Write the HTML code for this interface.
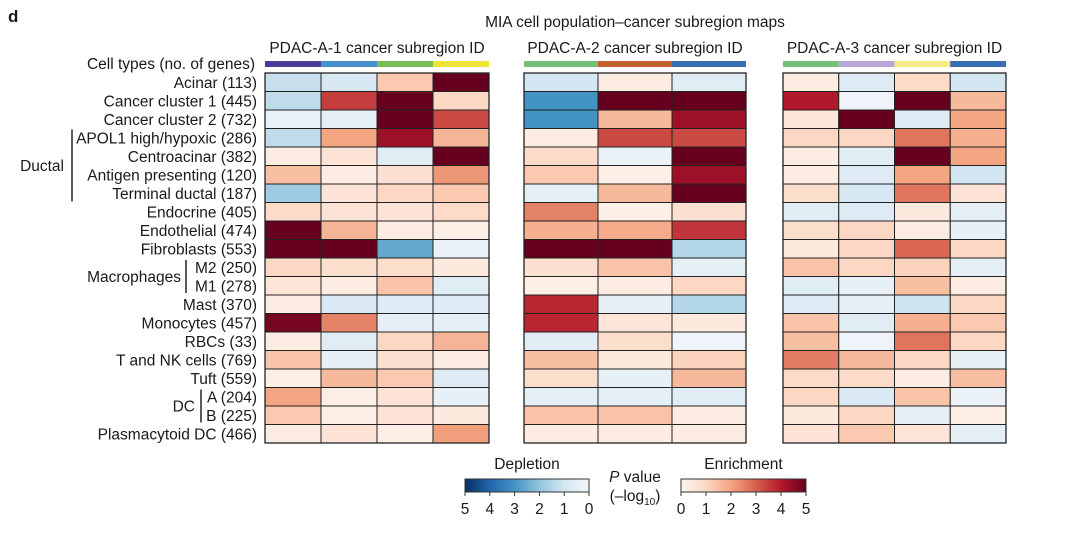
<!DOCTYPE html>
<html><head><meta charset="utf-8"><style>
body{margin:0;background:#fff;}
svg text{font-family:"Liberation Sans",Arial,sans-serif;fill:#1a1a1a;}
</style></head><body>
<svg id="chart" width="1080" height="538" viewBox="0 0 1080 538" xmlns="http://www.w3.org/2000/svg">
<text x="8" y="22" font-size="17" font-weight="bold">d</text>
<text x="635" y="27" font-size="15.5" text-anchor="middle">MIA cell population–cancer subregion maps</text>
<g id="labels"></g>
<g id="maps"></g>
<g id="legend"></g>
</svg>
<script>
const rowLabels=["Acinar (113)","Cancer cluster 1 (445)","Cancer cluster 2 (732)","APOL1 high/hypoxic (286)","Centroacinar (382)","Antigen presenting (120)","Terminal ductal (187)","Endocrine (405)","Endothelial (474)","Fibroblasts (553)","M2 (250)","M1 (278)","Mast (370)","Monocytes (457)","RBCs (33)","T and NK cells (769)","Tuft (559)","A (204)","B (225)","Plasmacytoid DC (466)"];
const panelTitles=["PDAC-A-1 cancer subregion ID","PDAC-A-2 cancer subregion ID","PDAC-A-3 cancer subregion ID"];
const panel1Colors=["#4b3a96","#4a90d0","#77c05a","#ece536"];
const panel2Colors=["#78c07a","#c0622c","#3b6db5"];
const panel3Colors=["#78c07a","#b7a6d6","#f5ec8c","#3b6db5"];
// signed -log10 P: negative = depletion, positive = enrichment
const panel1Values=[
[-1.2,-0.9,1.3,5],[-1.3,3.5,5,1],[-0.3,-0.5,5,3.3],[-1.3,2,4.3,1.7],[0.3,0.6,-0.6,5],
[1.5,0.3,0.7,2.2],[-1.8,0.6,1,1.3],[0.9,0.6,0.6,0.9],[5,1.7,0.3,0.2],[5,5,-2.6,-0.3],
[1,0.8,0.8,0.4],[0.5,0.3,1.4,-0.6],[0.3,-0.8,-0.7,-0.7],[4.8,2.5,-0.5,-0.5],[0.3,-0.6,1,1.7],
[1.4,-0.4,0.7,0.3],[0.2,1.6,1.3,-0.7],[2,0.2,0.6,-0.4],[1.3,0.2,0.6,0.4],[0.3,0.6,0.2,2.1]];
const panel2Values=[
[-1,0.3,-0.6],[-3,5,5],[-3,1.6,4.3],[0.3,3.3,3.3],[0.9,-0.3,5],
[1.3,0.2,4.3],[-0.5,1.6,5],[2.5,0.2,0.7],[1.8,1.9,3.6],[5,5,-1.5],
[0.7,1.4,-0.5],[0.2,0.3,1],[3.8,-0.4,-1.5],[3.8,0.5,0.4],[-0.6,0.8,-0.2],
[1.5,0.4,1.1],[0.8,-0.4,1.6],[-0.5,-0.5,-0.6],[1.4,1.4,0.3],[0.3,0.3,0.3]];
const panel3Values=[
[0.3,-0.7,0.9,-1],[4,-0.2,5,1.6],[0.5,5,-0.7,2],[1,1,2.7,1.8],[0.3,-0.6,5,2],
[0.3,-0.7,2,-1],[0.8,-0.9,2.7,0.6],[-0.6,-0.7,0.4,-0.5],[0.8,1,0.3,-0.4],[0.4,1,2.9,1],
[1.4,1,1.1,-0.5],[-0.6,-0.4,1.5,0.3],[-0.7,-0.4,-1.1,1],[1.4,-0.6,1.8,1.3],[1.5,-0.2,2.7,1],
[2.6,1.6,1,-0.4],[0.9,0.9,0.3,1.5],[1,-0.8,1.4,-0.3],[0.4,1,-0.5,0.2],[0.6,1.3,0.5,-0.5]];
const legendTicksDep=[5,4,3,2,1,0];
const legendTicksEnr=[0,1,2,3,4,5];

const NS="http://www.w3.org/2000/svg";
function mk(tag,attrs,parent){const e=document.createElementNS(NS,tag);for(const k in attrs)e.setAttribute(k,attrs[k]);parent.appendChild(e);return e;}
const redStops=[[253,244,238],[252,216,196],[244,165,130],[214,96,77],[178,24,43],[103,0,31]];
const blueStops=[[244,247,251],[212,230,241],[146,197,222],[67,147,195],[33,102,172],[5,48,97]];
function color(v){const s=v>=0?redStops:blueStops;let a=Math.min(5,Math.abs(v));const i=Math.min(4,Math.floor(a));const t=a-i;const c=s[i].map((x,k)=>Math.round(x+(s[i+1][k]-x)*t));return `rgb(${c.join(',')})`;}
const top0=73,bottom0=443,nRows=rowLabels.length;
const rowH=(bottom0-top0)/nRows;
function yScale(r){return top0+r*rowH;}
const FS=15.5;

// labels
const L=document.getElementById('labels');
let t=mk('text',{x:255,y:69,'font-size':FS,'text-anchor':'end'},L);t.textContent="Cell types (no. of genes)";


rowLabels.forEach((lab,r)=>{const e=mk('text',{x:257,y:yScale(r)+rowH/2+5.5,'font-size':FS,'text-anchor':'end'},L);e.textContent=lab;

});
function group(txt,x,lx,y1,y2,name){const ln=mk('line',{x1:lx,x2:lx,y1:y1,y2:y2,stroke:'#222','stroke-width':1.5},L);


const e=mk('text',{x:x,y:(y1+y2)/2+5.5,'font-size':FS,'text-anchor':'end'},L);e.textContent=txt;

}
group("Ductal",64,72,yScale(3)+1,yScale(7)-1,'ductal');
group("Macrophages",181,186,yScale(10)+2,yScale(12)-2,'macrophages');
group("DC",195,201,yScale(17)+2,yScale(19)-2,'dc');

// maps
const M=document.getElementById('maps');
const panels=[{x0:265,x1:489,vals:panel1Values,cols:panel1Colors},{x0:524,x1:746,vals:panel2Values,cols:panel2Colors},{x0:783,x1:1006,vals:panel3Values,cols:panel3Colors}];
panels.forEach((p,pi)=>{
  const g=mk('g',{},M);
  
  
  const nc=p.cols.length,cw=(p.x1-p.x0)/nc;
  const tt=mk('text',{x:(p.x0+p.x1)/2,y:53,'font-size':FS,'text-anchor':'middle'},g);tt.textContent=panelTitles[pi];
  
  
  p.cols.forEach((c,ci)=>{const b=mk('rect',{x:p.x0+ci*cw,y:61,width:cw,height:6,fill:c},g);
    
    });
  p.vals.forEach((row,r)=>row.forEach((v,ci)=>{
    const c=mk('rect',{x:p.x0+ci*cw,y:yScale(r),width:cw,height:rowH,fill:color(v),stroke:'#222','stroke-width':1},g);
    
    
  }));
  mk('rect',{x:p.x0,y:top0,width:p.x1-p.x0,height:bottom0-top0,fill:'none',stroke:'#222','stroke-width':1.3},g);
});

// legend
const G=document.getElementById('legend');
const defs=mk('defs',{},G);
function grad(id,stops){const lg=mk('linearGradient',{id:id,x1:0,x2:1,y1:0,y2:0},defs);stops.forEach((s,i)=>{mk('stop',{offset:i/5,'stop-color':`rgb(${s.join(',')})`},lg);});}
grad('gb',blueStops.slice().reverse());grad('gr',redStops);
function bar(x0,x1,fill,ticks,title,name){
  const r=mk('rect',{x:x0,y:479,width:x1-x0,height:13,fill:fill,stroke:'#333','stroke-width':1},G);
  
  
  const tt=mk('text',{x:(x0+x1)/2,y:469,'font-size':FS,'text-anchor':'middle'},G);tt.textContent=title;
  
  
  ticks.forEach((v,i)=>{const x=x0+i*(x1-x0)/(ticks.length-1);
    mk('line',{x1:x,x2:x,y1:492,y2:496,stroke:'#333'},G);
    const e=mk('text',{x:x,y:514,'font-size':FS,'text-anchor':'middle'},G);e.textContent=v;
    
    });
}
bar(465,589,'url(#gb)',legendTicksDep,'Depletion','depletion');
bar(681,806,'url(#gr)',legendTicksEnr,'Enrichment','enrichment');
let pv=mk('text',{x:635,y:482,'font-size':FS,'text-anchor':'middle'},G);
pv.innerHTML='<tspan font-style="italic">P</tspan> value';


let lg=mk('text',{x:635,y:501,'font-size':FS,'text-anchor':'middle'},G);
lg.innerHTML='(–log<tspan font-size="10" dy="4">10</tspan><tspan dy="-4">)</tspan>';


</script>
</body></html>
